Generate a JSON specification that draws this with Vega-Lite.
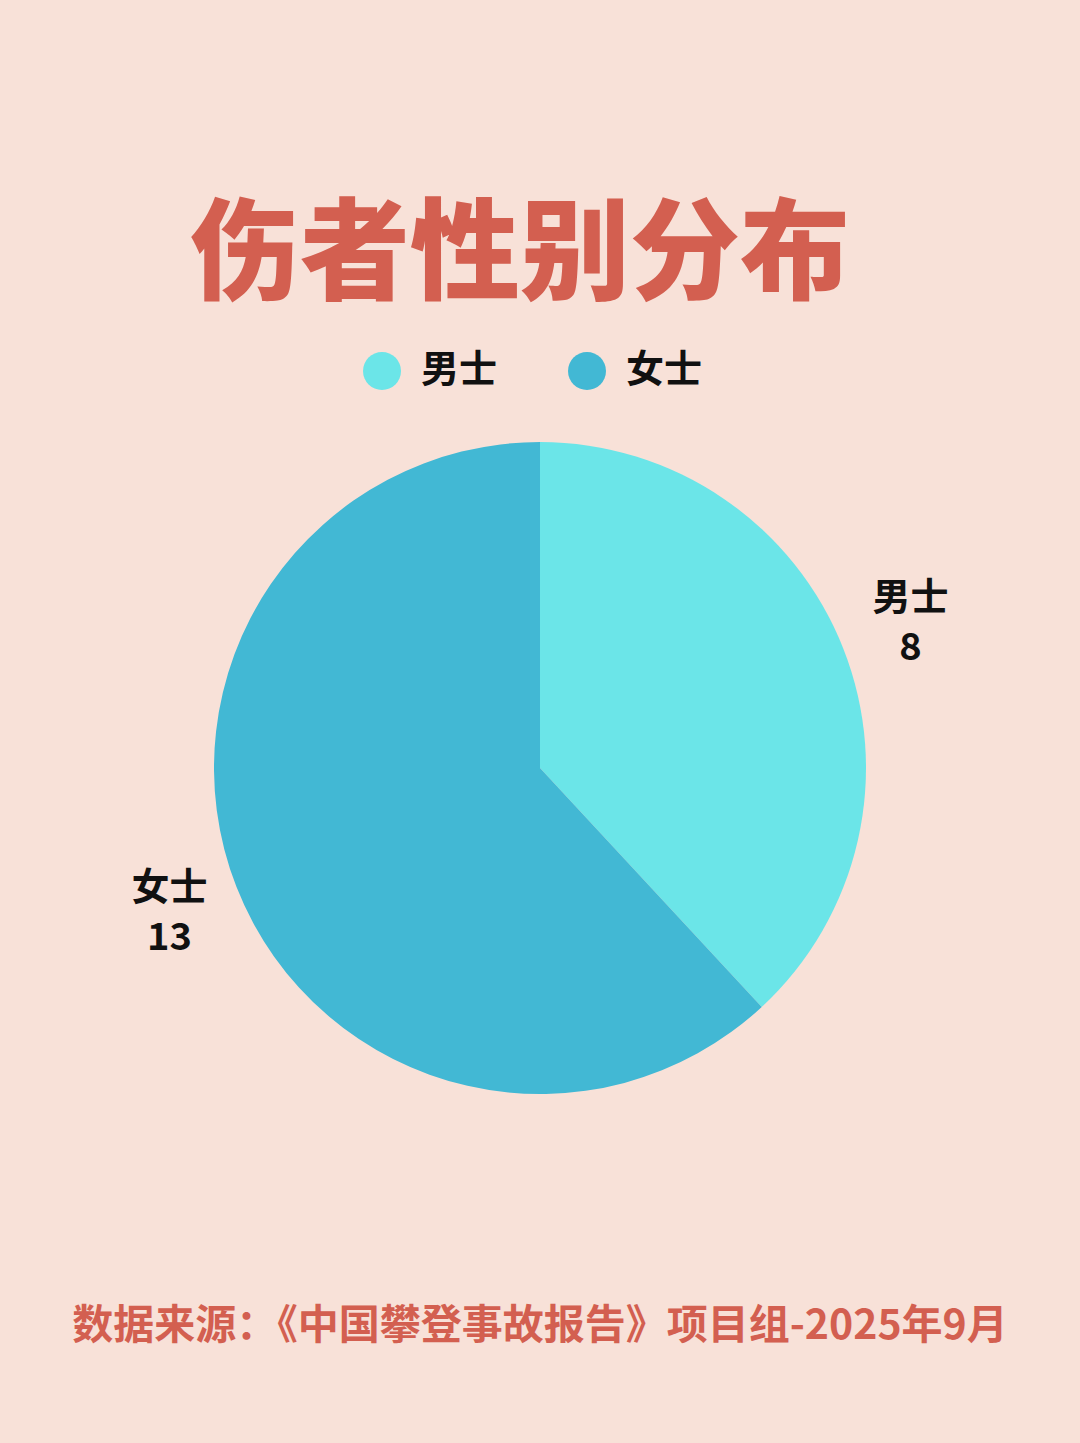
{
  "$schema": "https://vega.github.io/schema/vega-lite/v6.json",
  "background": "#F8E1D8",
  "padding": {"left": 0, "right": 0, "top": 203, "bottom": 110},
  "title": {
    "text": "伤者性别分布",
    "font": "Noto Sans CJK SC",
    "fontSize": 110,
    "fontWeight": 900,
    "color": "#D35F50",
    "anchor": "middle",
    "frame": "group",
    "offset": 38,
    "dx": -20
  },
  "config": {"view": {"stroke": null}, "concat": {"spacing": 0}},
  "vconcat": [
    {
      "width": 1080,
      "height": 680,
      "title": {
        "text": "数据来源：《中国攀登事故报告》项目组-2025年9月",
        "orient": "bottom",
        "font": "Noto Sans CJK SC",
        "fontSize": 41,
        "fontWeight": "bold",
        "color": "#D35F50",
        "anchor": "middle",
        "frame": "group",
        "offset": 199
      },
      "data": {
        "values": [
          {"gender": "男士", "count": 8},
          {"gender": "女士", "count": 13}
        ]
      },
      "encoding": {
        "theta": {"field": "count", "type": "quantitative", "stack": true},
        "order": {"field": "count", "type": "quantitative", "sort": "ascending"},
        "color": {
          "field": "gender",
          "type": "nominal",
          "scale": {"domain": ["男士", "女士"], "range": ["#6BE5E8", "#42B8D4"]},
          "legend": {
            "orient": "none",
            "legendX": 363,
            "legendY": -76,
            "direction": "horizontal",
            "title": null,
            "padding": 0,
            "symbolType": "circle",
            "symbolSize": 1444,
            "symbolStrokeWidth": 0,
            "symbolOpacity": 1,
            "labelFont": "Noto Sans CJK SC",
            "labelFontSize": 38,
            "labelFontWeight": "bold",
            "labelColor": "#111111",
            "labelOffset": 20,
            "columnPadding": 70,
            "labelLimit": 300
          }
        }
      },
      "layer": [
        {"mark": {"type": "arc", "radius": 326}},
        {
          "mark": {
            "type": "text",
            "radius": 398,
            "dy": -24,
            "font": "Noto Sans CJK SC",
            "fontSize": 38,
            "fontWeight": "bold",
            "color": "#111111",
            "align": "center",
            "baseline": "middle"
          },
          "encoding": {"text": {"field": "gender", "type": "nominal"}, "color": {"value": "#111111"}}
        },
        {
          "mark": {
            "type": "text",
            "radius": 398,
            "dy": 26,
            "font": "Noto Sans CJK SC",
            "fontSize": 38,
            "fontWeight": "bold",
            "color": "#111111",
            "align": "center",
            "baseline": "middle"
          },
          "encoding": {"text": {"field": "count", "type": "quantitative"}, "color": {"value": "#111111"}}
        }
      ]
    }
  ]
}
